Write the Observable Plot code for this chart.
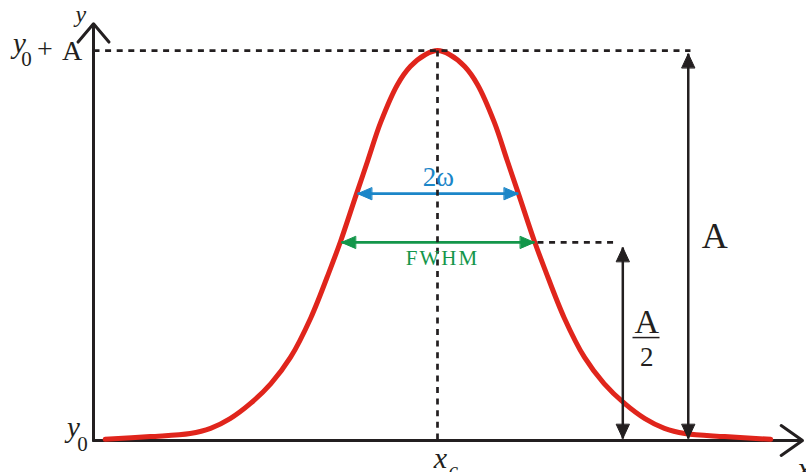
<!DOCTYPE html>
<html><head><meta charset="utf-8">
<script src="https://cdn.jsdelivr.net/npm/d3@7"></script>
<script src="https://cdn.jsdelivr.net/npm/@observablehq/plot@0.6"></script>
<style>html,body{margin:0;padding:0;background:#fff;overflow:hidden} #chart svg{display:block}</style>
</head><body><div id="chart"></div>
<script>
// ---- data (x in units of the curve, xc = 0; y normalised so y0 = 0, y0+A = 1) ----
const curveX = [-3.91,-3.38,-2.91,-2.67,-2.44,-2.20,-1.96,-1.73,-1.49,-1.26,-1.14,-0.96,-0.82,-0.67,-0.47,-0.32,-0.14,
                0,
                0.14,0.32,0.47,0.67,0.82,0.96,1.14,1.26,1.49,1.73,1.96,2.20,2.44,2.67,2.91,3.38,3.92];
const curveY = [0.003,0.010,0.018,0.031,0.056,0.095,0.146,0.213,0.315,0.441,0.511,0.628,0.718,0.815,0.913,0.959,0.990,
                1,
                0.990,0.959,0.913,0.815,0.718,0.628,0.511,0.441,0.315,0.213,0.146,0.095,0.056,0.031,0.018,0.010,0.003];
const xc = 0, y0 = 0, A = 1;
const xMin = -4.047, xMax = 4.294, yMax = 1.072, yArrowTip = 1.069;
const halfLevel = 0.508, omegaLevel = 0.633;
const omegaEnds = [-0.94, 0.95];
const fwhmEnds = [-1.13, 1.14];
const aArrowX = 2.95, aArrowEnds = [0.005, 0.992];
const halfArrowX = 2.18, halfArrowEnds = [0.005, 0.495];
const topGuideEnd = 2.976;
const halfGuide = [1.176, 2.08];
const fracBar = [2.294, 2.612, 0.264];

const curve = curveX.map((x, i) => ({x, y: curveY[i]}));

const BLACK = "#231f20", RED = "#e0251c", BLUE = "#1b86c8", GREEN = "#13964a";
const SERIF = "Liberation Serif, Times New Roman, serif";

const tri = {draw(ctx, l, r) { ctx.moveTo(-r, 0); ctx.lineTo(0, -l); ctx.lineTo(r, 0); ctx.closePath(); }};

const blackHeads = [
  {x: aArrowX, y: aArrowEnds[1], rotate: 0}, {x: aArrowX, y: aArrowEnds[0], rotate: 180},
  {x: halfArrowX, y: halfArrowEnds[1], rotate: 0}, {x: halfArrowX, y: halfArrowEnds[0], rotate: 180}
];
const blueHeads = [{x: omegaEnds[0], y: omegaLevel, rotate: -90}, {x: omegaEnds[1], y: omegaLevel, rotate: 90}];
const greenHeads = [{x: fwhmEnds[0], y: halfLevel, rotate: -90}, {x: fwhmEnds[1], y: halfLevel, rotate: 90}];

function label(t, x, y, o) {
  return Plot.text([t], {x, y, text: d => d, lineAnchor: "bottom", fontFamily: SERIF, fill: BLACK, ...o});
}
const dash = {stroke: BLACK, strokeWidth: 2.7, strokeDasharray: "6,5.6"};

const chart = Plot.plot({
  width: 806, height: 472,
  marginLeft: 93, marginRight: 4, marginTop: 22, marginBottom: 32,
  x: {domain: [xMin, xMax], axis: null},
  y: {domain: [0, yMax], axis: null},
  style: {background: "white", overflow: "visible"},
  marks: [
    // axes
    Plot.arrow([0], {x1: xMin, y1: y0, x2: xMax, y2: y0, stroke: BLACK, strokeWidth: 3, headLength: 13, headAngle: 70, inset: 0}),
    Plot.arrow([0], {x1: xMin, y1: y0, x2: xMin, y2: yArrowTip, stroke: BLACK, strokeWidth: 3, headLength: 12, headAngle: 80, inset: 0}),
    // curve
    Plot.line(curve, {x: "x", y: "y", stroke: RED, strokeWidth: 5, curve: "catmull-rom"}),
    // vertical double arrows
    Plot.link([0], {x1: aArrowX, x2: aArrowX, y1: aArrowEnds[0], y2: aArrowEnds[1], stroke: BLACK, strokeWidth: 2.5}),
    Plot.link([0], {x1: halfArrowX, x2: halfArrowX, y1: halfArrowEnds[0], y2: halfArrowEnds[1], stroke: BLACK, strokeWidth: 2.5}),
    Plot.vector(blackHeads, {x: "x", y: "y", rotate: "rotate", length: 14, r: 6.5, anchor: "end", shape: tri, fill: BLACK, stroke: BLACK, strokeWidth: 1}),
    // horizontal double arrows
    Plot.link([0], {x1: omegaEnds[0], x2: omegaEnds[1], y1: omegaLevel, y2: omegaLevel, stroke: BLUE, strokeWidth: 2.7}),
    Plot.vector(blueHeads, {x: "x", y: "y", rotate: "rotate", length: 14, r: 6, anchor: "end", shape: tri, fill: BLUE, stroke: BLUE, strokeWidth: 1}),
    Plot.link([0], {x1: fwhmEnds[0], x2: fwhmEnds[1], y1: halfLevel, y2: halfLevel, stroke: GREEN, strokeWidth: 2.7}),
    Plot.vector(greenHeads, {x: "x", y: "y", rotate: "rotate", length: 14, r: 6, anchor: "end", shape: tri, fill: GREEN, stroke: GREEN, strokeWidth: 1}),
    // dashed guides
    Plot.link([0], {x1: xMin, x2: topGuideEnd, y1: A, y2: A, ...dash}),
    Plot.link([0], {x1: xc, x2: xc, y1: A, y2: y0, ...dash}),
    Plot.link([0], {x1: halfGuide[0], x2: halfGuide[1], y1: halfLevel, y2: halfLevel, ...dash}),
    // fraction bar
    Plot.link([0], {x1: fracBar[0], x2: fracBar[1], y1: fracBar[2], y2: fracBar[2], stroke: BLACK, strokeWidth: 1.5}),
    // labels
    label("y", xMin, yMax, {textAnchor: "start", dx: -18, dy: -1, fontSize: 24, fontStyle: "italic"}),
    label("y", xMin, A, {textAnchor: "middle", dx: -74, dy: 2, fontSize: 29, fontStyle: "italic"}),
    label("0", xMin, A, {textAnchor: "middle", dx: -67, dy: 15, fontSize: 21}),
    label("+", xMin, A, {textAnchor: "middle", dx: -48.5, dy: 7, fontSize: 28}),
    label("A", xMin, A, {textAnchor: "middle", dx: -21.5, dy: 9, fontSize: 28}),
    label("y", xMin, y0, {textAnchor: "middle", dx: -20, dy: -4, fontSize: 29, fontStyle: "italic"}),
    label("0", xMin, y0, {textAnchor: "middle", dx: -11, dy: 10, fontSize: 21}),
    label("x", xc, y0, {textAnchor: "middle", dx: 3, dy: 27, fontSize: 30, fontStyle: "italic"}),
    label("c", xc, y0, {textAnchor: "middle", dx: 16, dy: 36, fontSize: 21, fontStyle: "italic"}),
    label("x", xMax, y0, {textAnchor: "start", dx: -5, dy: 37, fontSize: 30, fontStyle: "italic"}),
    label("A", aArrowX, A / 2, {textAnchor: "middle", dx: 26.5, dy: 2, fontSize: 36}),
    label("A", halfArrowX, A / 4, {textAnchor: "middle", dx: 24, dy: -10.5, fontSize: 34}),
    label("2", halfArrowX, A / 4, {textAnchor: "middle", dx: 24, dy: 22.5, fontSize: 27}),
    label("2ω", xc, omegaLevel, {textAnchor: "middle", dx: 1, dy: -8, fontSize: 27, fill: BLUE}),
    label("FWHM", xc, halfLevel, {textAnchor: "middle", dx: 5, dy: 23, fontSize: 21, fill: GREEN,
      render: (index, scales, values, dims, context, next) => { const g = next(index, scales, values, dims, context); g.setAttribute("letter-spacing", "2px"); return g; }})
  ]
});
document.getElementById("chart").appendChild(chart);
</script>
</body></html>
